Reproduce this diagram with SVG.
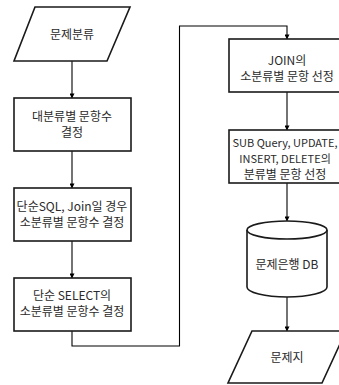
<svg xmlns="http://www.w3.org/2000/svg" width="339" height="385" viewBox="0 0 339 385">
<defs>
<marker id="ah" viewBox="0 0 6 6" refX="5.5" refY="3" markerWidth="5" markerHeight="5" orient="auto" markerUnits="userSpaceOnUse">
<path d="M0,0 L6,3 L0,6 z" fill="#000"/>
</marker>
<style>
.s{fill:#fff;stroke:#1a1a1a;stroke-width:1.6}
.c{fill:none;stroke:#000;stroke-width:1.1}
text{font-family:"Malgun Gothic","Noto Sans CJK KR",sans-serif;font-size:12px;fill:#2a2a2a;text-anchor:middle}
.n{font-size:11px}
</style>
</defs>
<rect width="339" height="385" fill="#fff"/>
<g id="connectors">
<path class="c" d="M72,61 V98" marker-end="url(#ah)"/>
<path class="c" d="M72,151 V188" marker-end="url(#ah)"/>
<path class="c" d="M72,241 V278" marker-end="url(#ah)"/>
<path class="c" d="M72,331 V346 H179.5 V26 H287 V39" marker-end="url(#ah)"/>
<path class="c" d="M287,92 V130" marker-end="url(#ah)"/>
<path class="c" d="M287,183 V221" marker-end="url(#ah)"/>
<path class="c" d="M287,297 V331" marker-end="url(#ah)"/>
</g>
<g id="n1">
<polygon class="s" points="35,7 130,7 107,61 14,61"/>
<text x="72" y="39">문제분류</text>
</g>
<g id="n2">
<rect class="s" x="14" y="98" width="117" height="53"/>
<text x="72" y="121">대분류별 문항수</text>
<text x="72" y="137">결정</text>
</g>
<g id="n3">
<rect class="s" x="14" y="188" width="117" height="53"/>
<text x="72" y="211">단순SQL, Join일 경우</text>
<text x="72" y="227">소분류별 문항수 결정</text>
</g>
<g id="n4">
<rect class="s" x="14" y="278" width="117" height="53"/>
<text x="72" y="300">단순 SELECT의</text>
<text x="72" y="316">소분류별 문항수 결정</text>
</g>
<g id="n5">
<rect class="s" x="229" y="39" width="116" height="53"/>
<text x="287" y="65">JOIN의</text>
<text x="287" y="81">소분류별 문항 선정</text>
</g>
<g id="n6">
<rect class="s" x="229" y="130" width="116" height="53"/>
<text class="n" x="285" y="147">SUB Query, UPDATE,</text>
<text class="n" x="285" y="163">INSERT, DELETE의</text>
<text x="285" y="179">분류별 문항 선정</text>
</g>
<g id="n7">
<path class="s" d="M247,230 V287 A40,10 0 0 0 327,287 V230 A40,9 0 0 0 247,230 Z"/>
<path class="s" d="M247,230 A40,9 0 0 0 327,230" fill="none"/>
<text x="287" y="269">문제은행 DB</text>
</g>
<g id="n8">
<polygon class="s" points="252,331 346,331 322,383 228,383"/>
<text x="287" y="362">문제지</text>
</g>
</svg>
